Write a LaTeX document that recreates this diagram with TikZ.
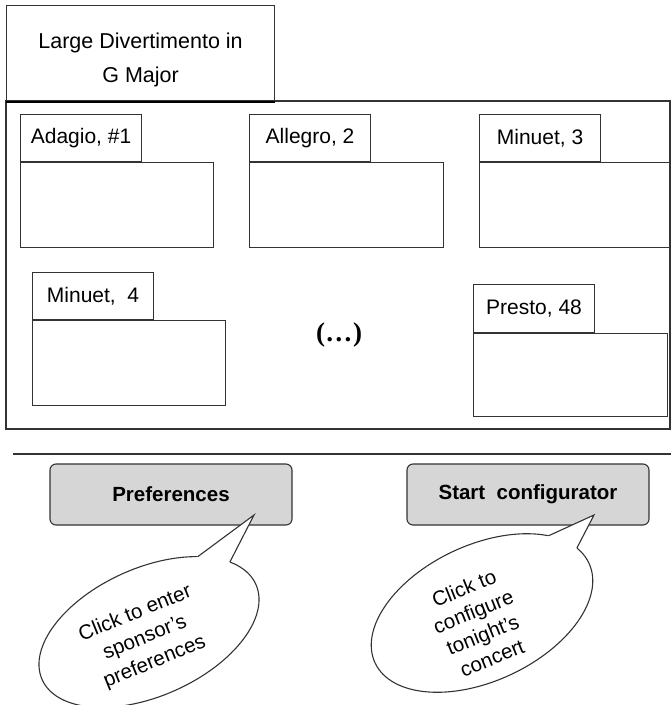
\documentclass[tikz,border=0pt]{standalone}
\usepackage{fontspec}
\setmainfont{Liberation Sans}
\newfontfamily\serifdots{Liberation Serif}
\usetikzlibrary{shapes.geometric,calc}

\begin{document}
\begin{tikzpicture}[x=1pt,y=1pt,
  line/.style={draw=black!80, line width=1.1pt},
  txt/.style={font=\fontsize{21}{26}\selectfont},
  tabbox/.style={line, txt, inner sep=0pt, minimum width=121, minimum height=47, anchor=north west},
  bodybox/.style={line, inner sep=0pt, minimum width=193, minimum height=85, anchor=north west},
  button/.style={line, rounded corners=6pt, fill=black!16, inner sep=0pt,
    minimum width=242, minimum height=61, font=\fontsize{20.5}{24}\bfseries\selectfont},
  bubble/.style={line, fill=white, ellipse, inner sep=0pt},
  bubbletext/.style={font=\fontsize{20.5}{26}\selectfont, align=center, inner sep=0pt},
  tail/.style={line, line join=miter}
]
\useasboundingbox (0,0) rectangle (671,-705);

% title box and frame of the movements
\node[line, anchor=north west, inner sep=0pt, minimum width=268, minimum height=96] (title) at (6,-5) {};
\node[font=\fontsize{21.5}{34}\selectfont, align=center, inner sep=0pt] (titletext)
  at ($(title.center)+(0,-6)$) {Large Divertimento in\\G Major};
\draw[line] (6,-101) rectangle (670,-429);
\draw[draw=black, line width=2pt] (title.south west) -- (title.south east);

% movements: tab label over an empty body
\node[tabbox] (t1) at (20,-114) {Adagio, \#1};
\node[bodybox] (m1) at (t1.south west) {};
\node[tabbox] (t2) at (249,-114) {Allegro, 2};
\node[bodybox, minimum width=194] (m2) at (t2.south west) {};
\node[tabbox] (t3) at (479,-114) {Minuet, 3};
\node[bodybox, minimum width=191] (m3) at (t3.south west) {};
\node[tabbox, minimum height=47] (t4) at (32,-272) {Minuet,\ \ 4};
\node[bodybox] (m4) at (t4.south west) {};
\node[tabbox, minimum height=48] (t5) at (473,-284) {Presto, 48};
\node[bodybox, minimum width=194, minimum height=83] (m5) at (t5.south west) {};
\node[font=\serifdots\fontsize{27}{30}\bfseries\selectfont] (more) at (339,-335) {(\kern0.5pt…\kern0.5pt)};

% separator
\coordinate (sepL) at (13,-454);
\coordinate (sepR) at (671,-454);
\draw[line] (sepL) -- (sepR);

% buttons
\node[button] (pref) at (171,-494.5) {Preferences};
\node[button] (start) at (528,-494.5) {Start\ \ configurator};

% speech bubble for the preferences button
\begin{scope}[shift={(149,-632)}, rotate=24]
  \node[bubble, rotate=24, minimum width=234, minimum height=128] (c1) at (0,0) {};
  \coordinate (c1a) at (50:117 and 64);
  \coordinate (c1b) at (29:117 and 64);
\end{scope}
\coordinate (tip1) at (254,-515);
\fill[white] ($(tip1)!1.12!(c1a)$) -- (tip1) -- ($(tip1)!1.12!(c1b)$) -- cycle;
\draw[tail] (c1a) -- (tip1) -- (c1b);
\node[bubbletext, rotate=22] (c1text) at (145,-638) {Click to enter\\sponsor’s\\preferences};

% speech bubble for the start button
\begin{scope}[shift={(482,-613)}, rotate=25]
  \node[bubble, rotate=25, minimum width=236, minimum height=136] (c2) at (0,0) {};
  \coordinate (c2a) at (38:118 and 68);
  \coordinate (c2b) at (16:118 and 68);
\end{scope}
\coordinate (tip2) at (594,-515);
\fill[white] ($(tip2)!1.12!(c2a)$) -- (tip2) -- ($(tip2)!1.12!(c2b)$) -- cycle;
\draw[tail] (c2a) -- (tip2) -- (c2b);
\node[bubbletext, rotate=22, font=\fontsize{20.5}{25}\selectfont] (c2text) at (478,-623) {Click to\\configure\\tonight’s\\concert};
\end{tikzpicture}
\end{document}
